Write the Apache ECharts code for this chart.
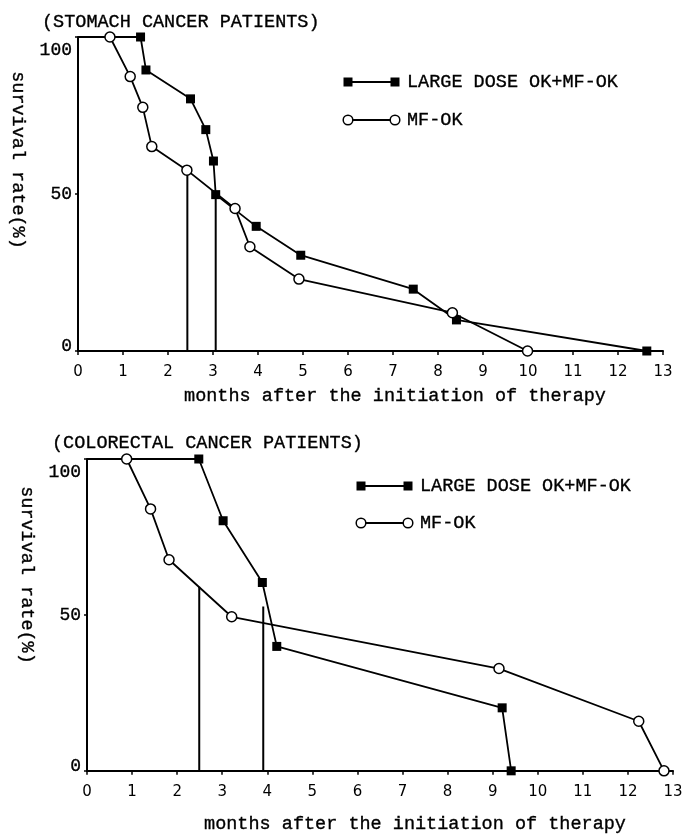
<!DOCTYPE html>
<html>
<head>
<meta charset="utf-8">
<script src="https://cdn.jsdelivr.net/npm/echarts@6/dist/echarts.min.js"></script>
<style>
  html, body { margin: 0; padding: 0; background: #fff; }
  #chart { width: 687px; height: 835px; }
</style>
</head>
<body>
<div id="chart"></div>
<script>
// ---- Stomach cancer patients ----
const stomachLargeMonths = [0, 1.39, 1.51, 2.50, 2.84, 3.01, 3.06, 3.96, 4.95, 7.45, 8.41, 12.64];
const stomachLargeRate   = [100, 100, 89.5, 80.3, 70.5, 60.5, 49.8, 39.7, 30.5, 19.7, 9.9, 0];
const stomachMfMonths    = [0, 0.71, 1.16, 1.44, 1.64, 2.42, 3.49, 3.82, 4.91, 8.32, 9.99];
const stomachMfRate      = [100, 100, 87.4, 77.6, 65.1, 57.6, 45.4, 33.2, 22.9, 12.2, 0];
const stomachMedianMonths = [2.43, 3.06];
const stomachMedianTop    = [57.6, 49.8];

// ---- Colorectal cancer patients ----
const colorectalLargeMonths = [0, 2.48, 3.02, 3.89, 4.21, 9.21, 9.41];
const colorectalLargeRate   = [100, 100, 80.2, 60.4, 39.9, 20.2, 0];
const colorectalMfMonths    = [0, 0.88, 1.41, 1.82, 3.21, 9.14, 12.24, 12.80];
const colorectalMfRate      = [100, 100, 84.0, 67.7, 49.4, 32.8, 15.9, 0];
const colorectalMedianMonths = [2.49, 3.91];
const colorectalMedianTop    = [59.0, 52.7];

// ---- Axis ticks and text ----
const monthTicks = [0, 13, 1];     // min, max, interval
const rateTicks  = [0, 100, 50];
const panelTitles = ['(STOMACH CANCER PATIENTS)', '(COLORECTAL CANCER PATIENTS)'];
const seriesNames = ['LARGE DOSE OK+MF-OK', 'MF-OK'];
const xName = 'months after the initiation of therapy';
const yName = 'survival rate(%)';

const MONO = '"Liberation Mono", "DejaVu Sans Mono", monospace';
const SANS = '"DejaVu Sans", sans-serif';
const INK = '#000';
const TEXT_EDGE = { textBorderColor: '#000', textBorderWidth: 0.35 };

function pairs(xs, ys) {
  return xs.map((x, i) => ({
    value: [x, ys[i]],
    // the curve starts at the axis corner without a marker
    symbol: x === 0 ? 'none' : undefined
  }));
}

function curve(name, xs, ys, grid, filled) {
  return {
    name: name,
    type: 'line',
    xAxisIndex: grid, yAxisIndex: grid,
    data: pairs(xs, ys),
    symbol: filled ? 'rect' : 'circle',
    symbolSize: filled ? 9 : 10,
    showAllSymbol: true,
    lineStyle: { color: INK, width: 1.8 },
    itemStyle: filled
      ? { color: INK, borderColor: INK, borderWidth: 0 }
      : { color: '#fff', borderColor: INK, borderWidth: 1.5 },
    z: filled ? 4 : 5
  };
}

function medians(xs, tops, grid) {
  return xs.map((x, i) => ({
    type: 'line',
    xAxisIndex: grid, yAxisIndex: grid,
    data: [[x, tops[i]], [x, 0]],
    symbol: 'none',
    lineStyle: { color: INK, width: 2 },
    z: 3
  }));
}

function xAxisFor(grid, gap, shift) {
  return {
    gridIndex: grid, type: 'value',
    min: monthTicks[0], max: monthTicks[1], interval: monthTicks[2],
    axisLine: { lineStyle: { color: INK, width: 2 } },
    axisTick: { length: 4, lineStyle: { color: INK, width: 1.5 } },
    axisLabel: { fontFamily: SANS, fontSize: 15, color: INK, margin: 14 },
    splitLine: { show: false },
    name: xName, nameLocation: 'middle', nameGap: gap,
    nameTextStyle: Object.assign({ fontFamily: MONO, fontSize: 18.5, color: INK, padding: [0, 0, 0, shift] }, TEXT_EDGE)
  };
}

function yAxisFor(grid) {
  const base = Object.assign({ fontFamily: MONO, fontSize: 18, color: INK }, TEXT_EDGE);
  return {
    gridIndex: grid, type: 'value',
    min: rateTicks[0], max: rateTicks[1], interval: rateTicks[2],
    axisLine: { lineStyle: { color: INK, width: 2 } },
    axisTick: { length: 3, lineStyle: { color: INK, width: 1.5 } },
    axisLabel: {
      margin: 6,
      formatter: v => v === rateTicks[1] ? '{hi|' + v + '}' : (v === rateTicks[0] ? '{lo|' + v + '}' : '{md|' + v + '}'),
      rich: {
        hi: Object.assign({ padding: [26, 0, 0, 0] }, base),
        lo: Object.assign({ padding: [0, 0, 10, 0] }, base),
        md: Object.assign({}, base)
      }
    },
    splitLine: { show: false }
  };
}

function monoText(text, x, y, extra) {
  return Object.assign({
    type: 'text', x: x, y: y,
    style: { text: text, font: '18.5px ' + MONO, fill: INK, stroke: INK, lineWidth: 0.35,
             align: 'left', verticalAlign: 'middle' }
  }, extra || {});
}

// legend key: two markers joined by a line, followed by the label
function legendKey(x, y, filled, label) {
  const w = 47;
  const marker = cx => filled
    ? { type: 'rect', shape: { x: cx - 4.5, y: y - 4.5, width: 9, height: 9 }, style: { fill: INK } }
    : { type: 'circle', shape: { cx: cx, cy: y, r: 4.8 }, style: { fill: '#fff', stroke: INK, lineWidth: 1.5 } };
  return [
    { type: 'line', shape: { x1: x, y1: y, x2: x + w, y2: y }, style: { stroke: INK, lineWidth: 1.8 } },
    marker(x), marker(x + w),
    monoText(label, x + 59, y)
  ];
}

function rotatedName(x, y) {
  const t = monoText(yName, x, y, { rotation: -Math.PI / 2 });
  t.style.align = 'center';
  return t;
}

const titleStyle = Object.assign({ fontFamily: MONO, fontSize: 18.5, fontWeight: 'normal', color: INK }, TEXT_EDGE);

const option = {
  animation: false,
  backgroundColor: '#fff',
  title: [
    { text: panelTitles[0], left: 42, top: 13, padding: 0, textStyle: titleStyle },
    { text: panelTitles[1], left: 52, top: 434, padding: 0, textStyle: titleStyle }
  ],
  grid: [
    { left: 78, top: 37, width: 585, height: 314 },
    { left: 87, top: 459, width: 586, height: 315 }
  ],
  xAxis: [xAxisFor(0, 36, 49), xAxisFor(1, 44, 70)],
  yAxis: [yAxisFor(0), yAxisFor(1)],
  graphic: [].concat(
    legendKey(348, 82, true, seriesNames[0]),
    legendKey(348, 120, false, seriesNames[1]),
    legendKey(361, 486, true, seriesNames[0]),
    legendKey(361, 523, false, seriesNames[1]),
    [rotatedName(18, 160), rotatedName(27, 575)]
  ),
  series: [].concat(
    medians(stomachMedianMonths, stomachMedianTop, 0),
    [curve(seriesNames[0], stomachLargeMonths, stomachLargeRate, 0, true),
     curve(seriesNames[1], stomachMfMonths, stomachMfRate, 0, false)],
    medians(colorectalMedianMonths, colorectalMedianTop, 1),
    [curve(seriesNames[0], colorectalLargeMonths, colorectalLargeRate, 1, true),
     curve(seriesNames[1], colorectalMfMonths, colorectalMfRate, 1, false)]
  )
};

echarts.init(document.getElementById('chart'), null, { renderer: 'canvas' }).setOption(option);
</script>
</body>
</html>
